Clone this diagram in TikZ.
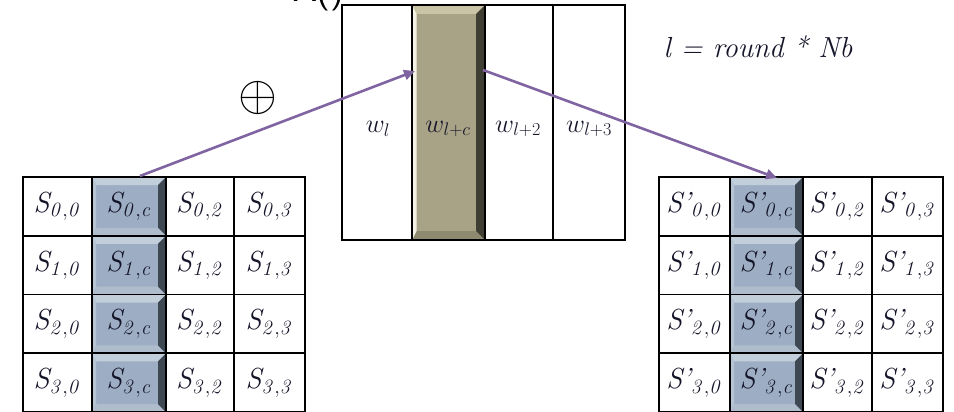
\RequirePackage{fix-cm}
\documentclass[tikz,border=0pt]{standalone}
\usetikzlibrary{arrows.meta}
\definecolor{arrowc}{HTML}{8064A2}
\definecolor{bbase}{HTML}{9DAEC4}
\definecolor{btop}{HTML}{C3CEDB}
\definecolor{bleft}{HTML}{B7C4D3}
\definecolor{bright}{HTML}{3E4852}
\definecolor{bbottom}{HTML}{AEBCCC}
\definecolor{kbase}{HTML}{A8A386}
\definecolor{ktop}{HTML}{C9C5A6}
\definecolor{kleft}{HTML}{F4F2E4}
\definecolor{kright}{HTML}{3F3E33}
\definecolor{kbottom}{HTML}{8E8A70}
\definecolor{labc}{HTML}{15152A}
% #1 x1, #2 y1, #3 x2, #4 y2, #5 bevel depth, #6 colour prefix
\newcommand\bevelbox[6]{%
  \fill[#6base] (#1,#2) rectangle (#3,#4);
  \fill[#6top] (#1,#2) -- (#3,#2) -- ({#3-#5},{#2+#5}) -- ({#1+#5/2},{#2+#5}) -- cycle;
  \fill[#6bottom] (#1,#4) -- (#3,#4) -- ({#3-#5},{#4-#5}) -- ({#1+#5/2},{#4-#5}) -- cycle;
  \fill[#6left] (#1,#2) -- ({#1+#5/2},{#2+#5}) -- ({#1+#5/2},{#4-#5}) -- (#1,#4) -- cycle;
  \fill[#6right] (#3,#2) -- ({#3-#5},{#2+#5}) -- ({#3-#5},{#4-#5}) -- (#3,#4) -- cycle;
}
\tikzset{
  cellbox/.style={draw=black, line width=1.6pt, inner sep=0pt, text=labc,
    font=\fontsize{29}{32}\selectfont\itshape},
  wlab/.style={inner sep=0pt, text=labc, font=\fontsize{26}{28}\selectfont},
  conn/.style={draw=arrowc, line width=2.6pt, -{Triangle[length=11pt,width=10pt]}},
}
\begin{document}
\begin{tikzpicture}[x=1pt,y=-1pt]
\useasboundingbox (0,0) rectangle (954,412);
% top cut-off text
\node[anchor=base west, inner sep=0pt, font=\sffamily\fontsize{38}{40}\selectfont] (topt) at (293,2) {X()};
% middle box
\bevelbox{412}{5}{485}{240}{9}{k}
\foreach \xa/\xb/\n in {342/412/1, 412/485/2, 485/553/3, 553/625/4}
  \node[cellbox, minimum width={\xb-\xa}, minimum height=235] (M\n) at ({(\xa+\xb)/2},122.5) {};
\node[wlab] (w1) at (378,129) {$w_{l}$};
\node[wlab] (w2) at (448,129) {$w_{l+c}$};
\node[wlab] (w3) at (518,129) {$w_{l+2}$};
\node[wlab] (w4) at (589,129) {$w_{l+3}$};
% formula
\node[inner sep=0pt, font=\fontsize{29}{32}\selectfont\itshape, text=labc] (form) at (758,47) {l = round * Nb};
% oplus
\node[inner sep=0pt, font=\fontsize{50}{50}\selectfont] (oplus) at (258,98) {$\oplus$};
% blue bevels
\foreach \r in {0,1,2,3} {
  \pgfmathsetmacro\ya{177+58.75*\r}
  \pgfmathsetmacro\yb{177+58.75*(\r+1)}
  \bevelbox{92}{\ya}{166}{\yb}{8}{b}
  \bevelbox{730}{\ya}{803}{\yb}{8}{b}
}
% left grid
\foreach \r in {0,1,2,3} {
  \foreach \xa/\xb/\c in {23/92/0, 92/166/c, 166/234/2, 234/305/3}
    \node[cellbox, minimum width={\xb-\xa}, minimum height=58.75] (L-\r-\c)
      at ({(\xa+\xb)/2},{177+58.75*(\r+0.5)}) {S$_{\mathit{\r,\c}}$};
}
% right grid
\foreach \r in {0,1,2,3} {
  \foreach \xa/\xb/\c in {659/730/0, 730/803/c, 803/872/2, 872/943/3}
    \node[cellbox, minimum width={\xb-\xa}, minimum height=58.75] (R-\r-\c)
      at ({(\xa+\xb)/2},{177+58.75*(\r+0.5)}) {S\textquoteright$_{\mathit{\r,\c}}$};
}
% arrows
\coordinate (a1s) at (140,176);
\coordinate (a1e) at (415,71);
\coordinate (a2s) at (483,70);
\coordinate (a2e) at (777,178);
\draw[conn] (a1s) -- (a1e);
\draw[conn] (a2s) -- (a2e);
\end{tikzpicture}
\end{document}
